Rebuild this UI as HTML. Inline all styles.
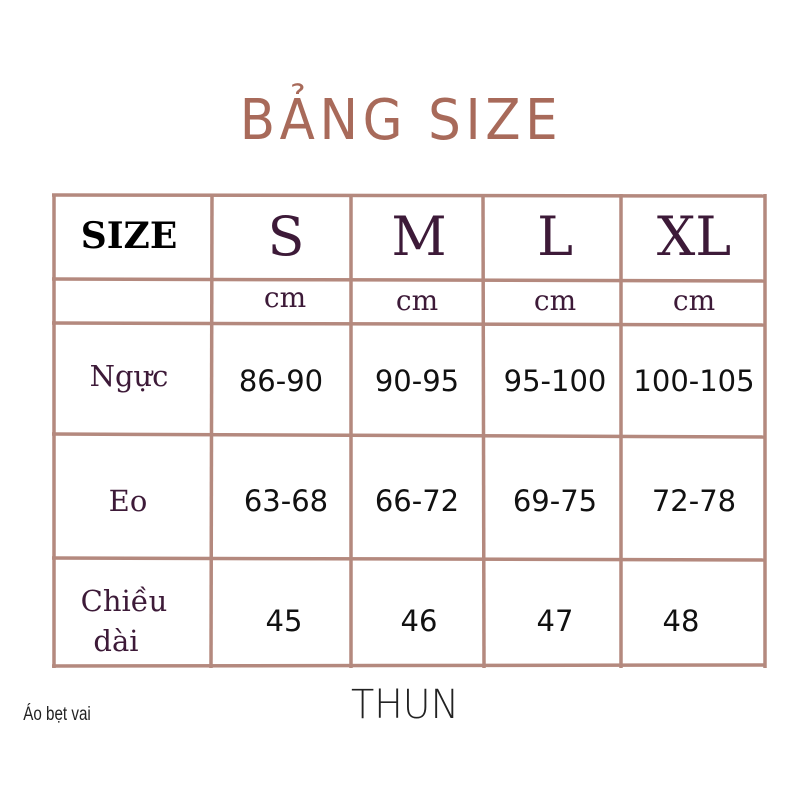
<!DOCTYPE html>
<html><head><meta charset="utf-8"><style>
body{margin:0;width:800px;height:800px;background:#fff;position:relative;overflow:hidden}
.t{position:absolute;white-space:nowrap;transform:translateX(-50%)}
.s{font-family:"DejaVu Serif","Liberation Serif",serif;color:#3d1a38}
.n{font-family:"DejaVu Sans","Liberation Sans",sans-serif;color:#111;font-size:29px}
</style></head><body>
<div class="t" style="left:401px;top:88px;font-family:'DejaVu Sans','Liberation Sans',sans-serif;font-size:56px;color:#a86a5a;font-weight:normal;letter-spacing:5px;transform:translateX(-50%) scaleX(0.92)">BẢNG SIZE</div>
<svg style="position:absolute;left:0;top:0" width="800" height="800">
<g stroke="#b4897e" stroke-width="3.5" fill="none">
<line x1="52" y1="195" x2="766" y2="196"/>
<line x1="52" y1="279" x2="766" y2="281"/>
<line x1="52" y1="323" x2="766" y2="325"/>
<line x1="52" y1="434" x2="766" y2="437"/>
<line x1="52" y1="558" x2="766" y2="560"/>
<line x1="52" y1="666" x2="766" y2="665"/>
<line x1="54" y1="194" x2="54" y2="668"/>
<line x1="212" y1="194" x2="211" y2="668"/>
<line x1="351" y1="194" x2="351" y2="668"/>
<line x1="483" y1="194" x2="484" y2="668"/>
<line x1="621" y1="194" x2="621" y2="668"/>
<line x1="765" y1="194" x2="765" y2="668"/>
</g></svg>
<div class="t" style="left:129px;top:215px;font-family:'DejaVu Serif','Liberation Serif',serif;font-weight:bold;font-size:36px;color:#000">SIZE</div>
<div class="t s" style="left:286px;top:205px;font-size:54px">S</div>
<div class="t s" style="left:419px;top:205px;font-size:54px">M</div>
<div class="t s" style="left:555px;top:205px;font-size:54px">L</div>
<div class="t s" style="left:694px;top:205px;font-size:54px">XL</div>
<div class="t s" style="left:285px;top:281px;font-size:28px">cm</div>
<div class="t s" style="left:417px;top:284px;font-size:28px">cm</div>
<div class="t s" style="left:555px;top:284px;font-size:28px">cm</div>
<div class="t s" style="left:694px;top:284px;font-size:28px">cm</div>
<div class="t s" style="left:129px;top:359px;font-size:29px">Ngực</div>
<div class="t n" style="left:281px;top:364px">86-90</div>
<div class="t n" style="left:417px;top:364px">90-95</div>
<div class="t n" style="left:555px;top:364px">95-100</div>
<div class="t n" style="left:694px;top:364px">100-105</div>
<div class="t s" style="left:128px;top:484px;font-size:29px">Eo</div>
<div class="t n" style="left:286px;top:484px">63-68</div>
<div class="t n" style="left:417px;top:484px">66-72</div>
<div class="t n" style="left:555px;top:484px">69-75</div>
<div class="t n" style="left:694px;top:484px">72-78</div>
<div class="t s" style="left:124px;top:584px;font-size:29px">Chiều</div>
<div class="t s" style="left:116px;top:624px;font-size:29px">dài</div>
<div class="t n" style="left:284px;top:604px">45</div>
<div class="t n" style="left:419px;top:604px">46</div>
<div class="t n" style="left:555px;top:604px">47</div>
<div class="t n" style="left:681px;top:604px">48</div>
<div class="t" style="left:405px;top:682px;font-family:'DejaVu Sans','Liberation Sans',sans-serif;font-size:40px;color:#222;font-weight:300;transform:translateX(-50%) scaleX(0.95)">THUN</div>
<div class="t" style="left:57px;top:704px;font-family:'Liberation Sans',sans-serif;font-size:19px;color:#222;transform:translateX(-50%) scaleX(0.8)">Áo bẹt vai</div>
</body></html>
